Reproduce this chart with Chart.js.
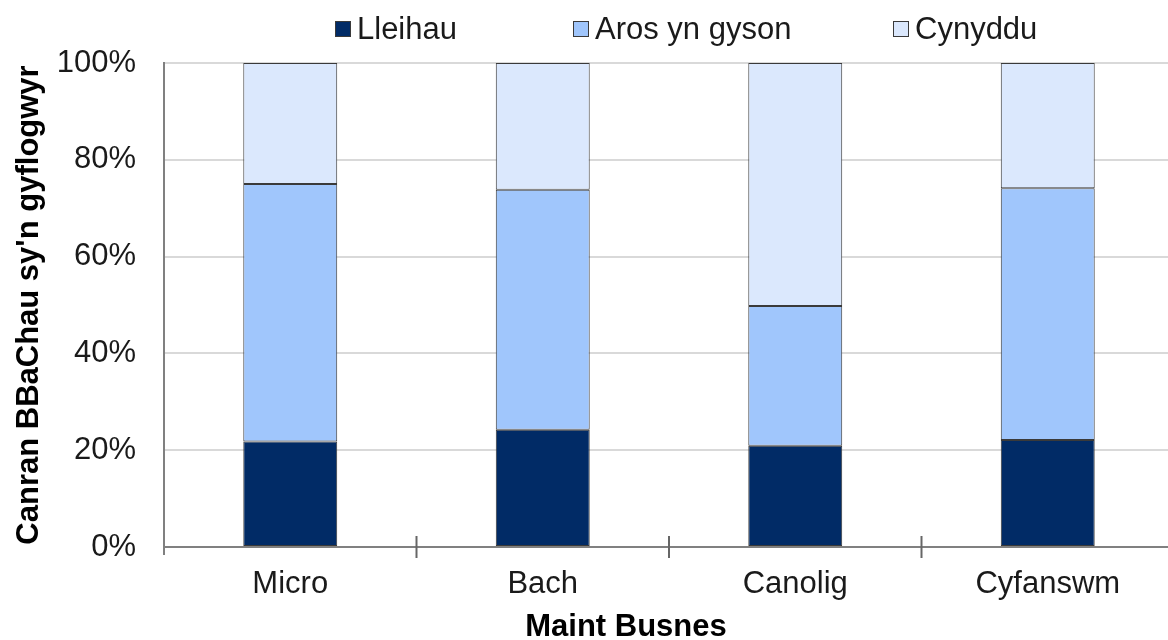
<!DOCTYPE html>
<html>
<head>
<meta charset="utf-8">
<script src="https://cdn.jsdelivr.net/npm/chart.js@4.4.0/dist/chart.umd.min.js"></script>
<style>
html, body { margin: 0; padding: 0; background: #fff; overflow: hidden; }
#wrap { width: 1175px; height: 640px; }
</style>
</head>
<body>
<div id="wrap"><canvas id="chart" width="1175" height="640"></canvas></div>
<script>
// values (percent of SMEs)
var categories = ["Micro", "Bach", "Canolig", "Cyfanswm"];
var seriesNames = ["Lleihau", "Aros yn gyson", "Cynyddu"];
var lleihau = [21.8, 24.2, 20.9, 22.1];
var arosYnGyson = [53.2, 49.6, 28.9, 52.0];
var cynyddu = [25.0, 26.2, 50.2, 25.9];
var yTicks = [0, 20, 40, 60, 80, 100];
var xTitle = "Maint Busnes";
var yTitle = "Canran BBaChau sy'n gyflogwyr";

var colours = ["#012b66", "#a0c6fc", "#dbe8fd"];
var FONT = "'Liberation Sans', Arial, sans-serif";

function makeSet(i, values) {
    return {
        label: seriesNames[i],
        data: values,
        backgroundColor: colours[i],
        borderColor: "#3a3a3a",
        borderWidth: 1,
        borderSkipped: false,
        barPercentage: 0.372,
        categoryPercentage: 1
    };
}

// tick marks across the x axis, legend and x title
var extras = {
    id: "extras",
    afterDraw: function (chart) {
        var c = chart.ctx, a = chart.chartArea, x = chart.scales.x;
        c.save();
        c.strokeStyle = "#666";
        c.lineWidth = 2;
        for (var i = 1; i < categories.length; i++) {
            var bx = (x.getPixelForValue(i - 1) + x.getPixelForValue(i)) / 2;
            c.beginPath();
            c.moveTo(bx, a.bottom - 11);
            c.lineTo(bx, a.bottom + 11);
            c.stroke();
        }
        c.strokeStyle = "#808080";
        c.beginPath();
        c.moveTo(a.left, a.bottom);
        c.lineTo(a.left, a.bottom + 8);
        c.stroke();

        // legend
        var lx = [335, 573, 893];
        c.font = "31px " + FONT;
        c.textBaseline = "middle";
        c.textAlign = "left";
        chart.data.datasets.forEach(function (ds, k) {
            c.fillStyle = ds.backgroundColor;
            c.fillRect(lx[k], 21, 16, 16);
            c.strokeStyle = "#3a3a3a";
            c.lineWidth = 1;
            c.strokeRect(lx[k] + 0.5, 21.5, 15, 15);
            c.fillStyle = "#1a1a1a";
            c.fillText(ds.label, lx[k] + 22, 30);
        });

        // x axis title
        c.font = "bold 31px " + FONT;
        c.textAlign = "center";
        c.fillStyle = "#000";
        c.fillText(xTitle, 626, 627);
        c.restore();
    }
};

var ctx = document.getElementById("chart");
var chart = new Chart(ctx, {
    type: "bar",
    data: {
        labels: categories,
        datasets: [makeSet(0, lleihau), makeSet(1, arosYnGyson), makeSet(2, cynyddu)]
    },
    options: {
        responsive: false,
        animation: false,
        layout: { padding: { top: 63, right: 1, left: 0, bottom: 0 } },
        plugins: {
            legend: { display: false },
            tooltip: { enabled: false }
        },
        scales: {
            x: {
                stacked: true,
                offset: true,
                grid: { display: false, drawTicks: false },
                border: { display: true, color: "#808080", width: 2 },
                ticks: { font: { family: FONT, size: 31 }, color: "#1a1a1a", padding: 19 },
                afterFit: function (s) { s.height = 93; }
            },
            y: {
                stacked: true,
                min: 0,
                max: 100,
                afterBuildTicks: function (s) {
                    s.ticks = yTicks.map(function (v) { return { value: v }; });
                },
                ticks: {
                    font: { family: FONT, size: 31 },
                    color: "#1a1a1a",
                    padding: 28,
                    callback: function (v) { return v + "%"; }
                },
                grid: { color: "#d9d9d9", lineWidth: 2, drawTicks: false },
                border: { color: "#808080", width: 2 },
                title: {
                    display: true,
                    text: yTitle,
                    color: "#000",
                    font: { family: FONT, size: 31, weight: "bold" },
                    padding: { top: 11, bottom: 0 }
                },
                afterFit: function (s) { s.width = 164; }
            }
        }
    },
    plugins: [extras]
});
</script>
</body>
</html>
